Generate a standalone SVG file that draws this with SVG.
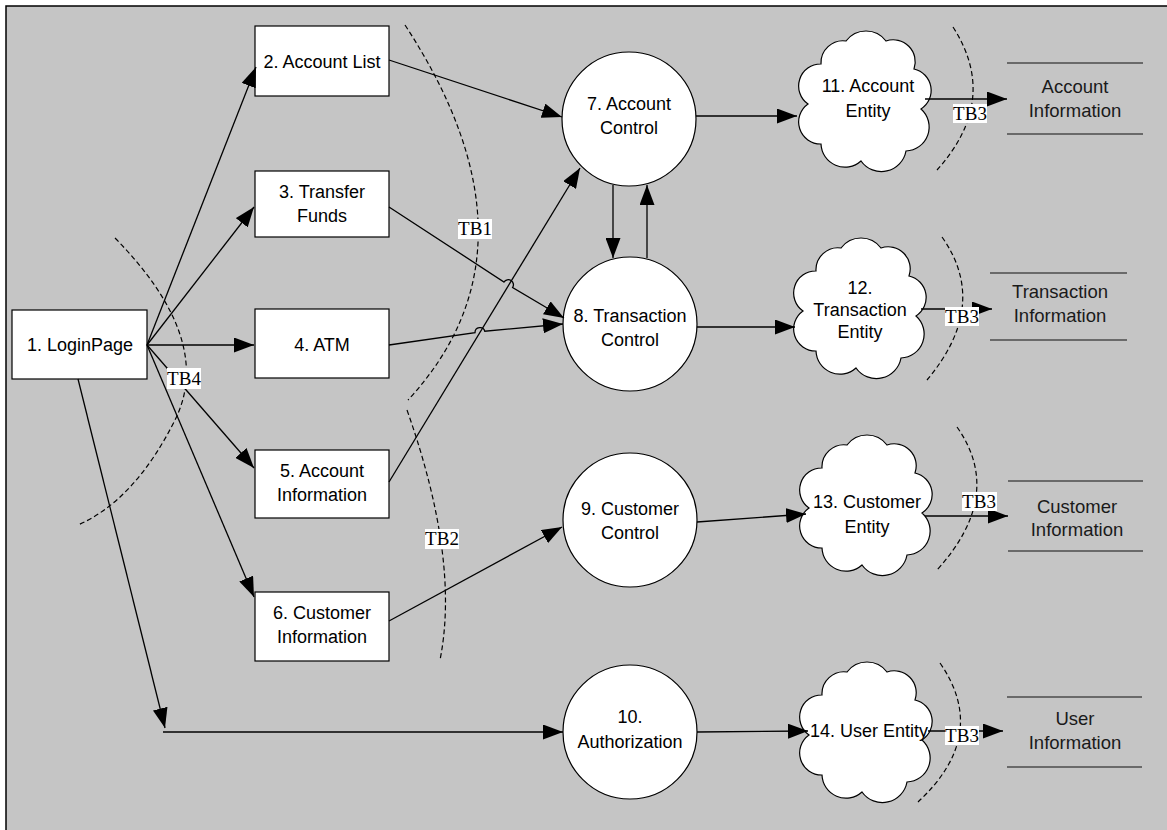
<svg xmlns="http://www.w3.org/2000/svg" xmlns:xlink="http://www.w3.org/1999/xlink" width="1167" height="830" viewBox="0 0 1167 830">
  <style>
    .frame { fill: #c5c5c5; stroke: #000; stroke-width: 1.5; }
    .box { fill: #fff; stroke: #000; stroke-width: 1.2; }
    .proc { fill: #fff; stroke: #000; stroke-width: 1.2; }
    .cloud { fill: #fff; stroke: #000; stroke-width: 1.2; }
    .lbl { font-family: "Liberation Sans", Arial, sans-serif; font-size: 18px; fill: #000; text-anchor: middle; }
    .store-lbl { font-family: "Liberation Sans", Arial, sans-serif; font-size: 18.5px; fill: #1a1a1a; text-anchor: middle; }
    .store-line { stroke: #111; stroke-width: 1.2; }
    .edge { fill: none; stroke: #000; stroke-width: 1.3; marker-end: url(#arrow); }
    .tb { fill: none; stroke: #000; stroke-width: 1.2; stroke-dasharray: 5 3; }
    .tb-bg { fill: #fff; }
    .tb-txt { font-family: "Liberation Serif", "Times New Roman", serif; font-size: 19px; fill: #000; text-anchor: middle; }
  </style>
  <defs>
    <marker id="arrow" markerUnits="userSpaceOnUse" markerWidth="20" markerHeight="15" refX="20" refY="7.5" orient="auto">
      <path d="M0,0 L20,7.5 L0,15 Z" fill="#000"/>
    </marker>
    <!-- cloud outline centred on the origin -->
    <path id="cloudShape" d="M -45 -35 A 22 22 0 0 1 -20 -58 A 25 25 0 0 1 20 -58 A 22 22 0 0 1 48 -30 A 22 22 0 0 1 55 10 A 24 24 0 0 1 40 52 A 25 25 0 0 1 -5 62 A 24 24 0 0 1 -45 45 A 22 22 0 0 1 -58 5 A 22 22 0 0 1 -45 -35 Z"/>
  </defs>

  <rect width="1167" height="830" fill="#fff"/>
  <rect class="frame" x="6" y="6" width="1170" height="830"/>

  <!-- pages -->
  <g id="n1"><rect class="box" x="12" y="310" width="135" height="69"/><text class="lbl" x="80" y="351">1. LoginPage</text></g>
  <g id="n2"><rect class="box" x="255" y="26" width="134" height="70"/><text class="lbl" x="322" y="68">2. Account List</text></g>
  <g id="n3"><rect class="box" x="255" y="171" width="134" height="66"/><text class="lbl" x="322" y="198">3. Transfer</text><text class="lbl" x="322" y="222">Funds</text></g>
  <g id="n4"><rect class="box" x="255" y="309" width="134" height="69"/><text class="lbl" x="322" y="351">4. ATM</text></g>
  <g id="n5"><rect class="box" x="255" y="450" width="134" height="68"/><text class="lbl" x="322" y="477">5. Account</text><text class="lbl" x="322" y="501">Information</text></g>
  <g id="n6"><rect class="box" x="255" y="592" width="134" height="69"/><text class="lbl" x="322" y="619">6. Customer</text><text class="lbl" x="322" y="643">Information</text></g>

  <!-- controls -->
  <g id="n7"><circle class="proc" cx="629" cy="119" r="67"/><text class="lbl" x="629" y="110">7. Account</text><text class="lbl" x="629" y="134">Control</text></g>
  <g id="n8"><circle class="proc" cx="630" cy="324" r="67"/><text class="lbl" x="630" y="322">8. Transaction</text><text class="lbl" x="630" y="346">Control</text></g>
  <g id="n9"><circle class="proc" cx="630" cy="520" r="67"/><text class="lbl" x="630" y="515">9. Customer</text><text class="lbl" x="630" y="539">Control</text></g>
  <g id="n10"><circle class="proc" cx="630" cy="732" r="67"/><text class="lbl" x="630" y="723">10.</text><text class="lbl" x="630" y="748">Authorization</text></g>

  <!-- entities -->
  <g id="n11"><use xlink:href="#cloudShape" class="cloud" transform="translate(866,99)"/><text class="lbl" x="868" y="92">11. Account</text><text class="lbl" x="868" y="117">Entity</text></g>
  <g id="n12"><use xlink:href="#cloudShape" class="cloud" transform="translate(861,306)"/><text class="lbl" x="860" y="294">12.</text><text class="lbl" x="860" y="316">Transaction</text><text class="lbl" x="860" y="338">Entity</text></g>
  <g id="n13"><use xlink:href="#cloudShape" class="cloud" transform="translate(867,503)"/><text class="lbl" x="867" y="508">13. Customer</text><text class="lbl" x="867" y="533">Entity</text></g>
  <g id="n14"><use xlink:href="#cloudShape" class="cloud" transform="translate(867,730)"/><text class="lbl" x="869" y="737">14. User Entity</text></g>

  <!-- data stores -->
  <g id="ds1"><line class="store-line" x1="1007" y1="63" x2="1143" y2="63"/><line class="store-line" x1="1007" y1="134" x2="1143" y2="134"/><text class="store-lbl" x="1075" y="93">Account</text><text class="store-lbl" x="1075" y="117">Information</text></g>
  <g id="ds2"><line class="store-line" x1="990" y1="273" x2="1127" y2="273"/><line class="store-line" x1="990" y1="340" x2="1127" y2="340"/><text class="store-lbl" x="1060" y="298">Transaction</text><text class="store-lbl" x="1060" y="322">Information</text></g>
  <g id="ds3"><line class="store-line" x1="1008" y1="481" x2="1143" y2="481"/><line class="store-line" x1="1008" y1="551" x2="1143" y2="551"/><text class="store-lbl" x="1077" y="513">Customer</text><text class="store-lbl" x="1077" y="536">Information</text></g>
  <g id="ds4"><line class="store-line" x1="1007" y1="697" x2="1142" y2="697"/><line class="store-line" x1="1007" y1="767" x2="1142" y2="767"/><text class="store-lbl" x="1075" y="725">User</text><text class="store-lbl" x="1075" y="749">Information</text></g>

  <!-- connectors -->
  <g id="connectors">
    <path class="edge" d="M147,345 L256,67"/>
    <path class="edge" d="M147,345 L254,207"/>
    <path class="edge" d="M147,345 L254,345"/>
    <path class="edge" d="M147,345 L254,468"/>
    <path class="edge" d="M147,345 L254,597"/>
    <path class="edge" d="M78,379 L165,728"/>
    <path class="edge" d="M163,732 L563,732"/>
    <path class="edge" d="M389,60 L562,117"/>
    <path class="edge" d="M389,207 L504,282 A 5 5 0 0 1 512.6,287.6 L564,318"/>
    <path class="edge" d="M389,345 L475,332.6 A 5 5 0 0 1 484.8,331.2 L563,324"/>
    <path class="edge" d="M389,482 L580,168"/>
    <path class="edge" d="M389,621 L562,527"/>
    <path class="edge" d="M613,185 L613,258"/>
    <path class="edge" d="M647,258 L647,185"/>
    <path class="edge" d="M696,116 L797,116"/>
    <path class="edge" d="M697,327 L795,327"/>
    <path class="edge" d="M697,522 L806,514"/>
    <path class="edge" d="M697,732 L808,731"/>
    <path class="edge" d="M925,99 L1007,99"/>
    <path class="edge" d="M921,309 L992,309"/>
    <path class="edge" d="M925,516 L1008,516"/>
    <path class="edge" d="M928,731 L1003,731"/>
  </g>

  <!-- trust boundaries -->
  <g id="boundaries">
    <path class="tb" d="M405,25 Q550,247 408,400"/>
    <path class="tb" d="M407,410 Q460,560 440,660"/>
    <path class="tb" d="M115,238 Q215,340 175,420 T78,525"/>
    <path class="tb" d="M953,27 Q1000,100 937,170"/>
    <path class="tb" d="M942,237 Q990,305 927,380"/>
    <path class="tb" d="M957,427 Q1005,495 937,570"/>
    <path class="tb" d="M940,663 Q990,735 918,802"/>
    <g id="tb1"><rect class="tb-bg" x="458" y="219" width="34" height="20"/><text class="tb-txt" x="475" y="235">TB1</text></g>
    <g id="tb2"><rect class="tb-bg" x="425" y="529" width="34" height="20"/><text class="tb-txt" x="442" y="545">TB2</text></g>
    <g id="tb4"><rect class="tb-bg" x="167" y="368" width="34" height="21"/><text class="tb-txt" x="184" y="385">TB4</text></g>
    <g id="tb3a"><rect class="tb-bg" x="953" y="104" width="34" height="19"/><text class="tb-txt" x="970" y="120">TB3</text></g>
    <g id="tb3b"><rect class="tb-bg" x="945" y="307" width="34" height="19"/><text class="tb-txt" x="962" y="323">TB3</text></g>
    <g id="tb3c"><rect class="tb-bg" x="962" y="492" width="35" height="19"/><text class="tb-txt" x="979" y="508">TB3</text></g>
    <g id="tb3d"><rect class="tb-bg" x="945" y="726" width="34" height="19"/><text class="tb-txt" x="962" y="742">TB3</text></g>
  </g>
</svg>
